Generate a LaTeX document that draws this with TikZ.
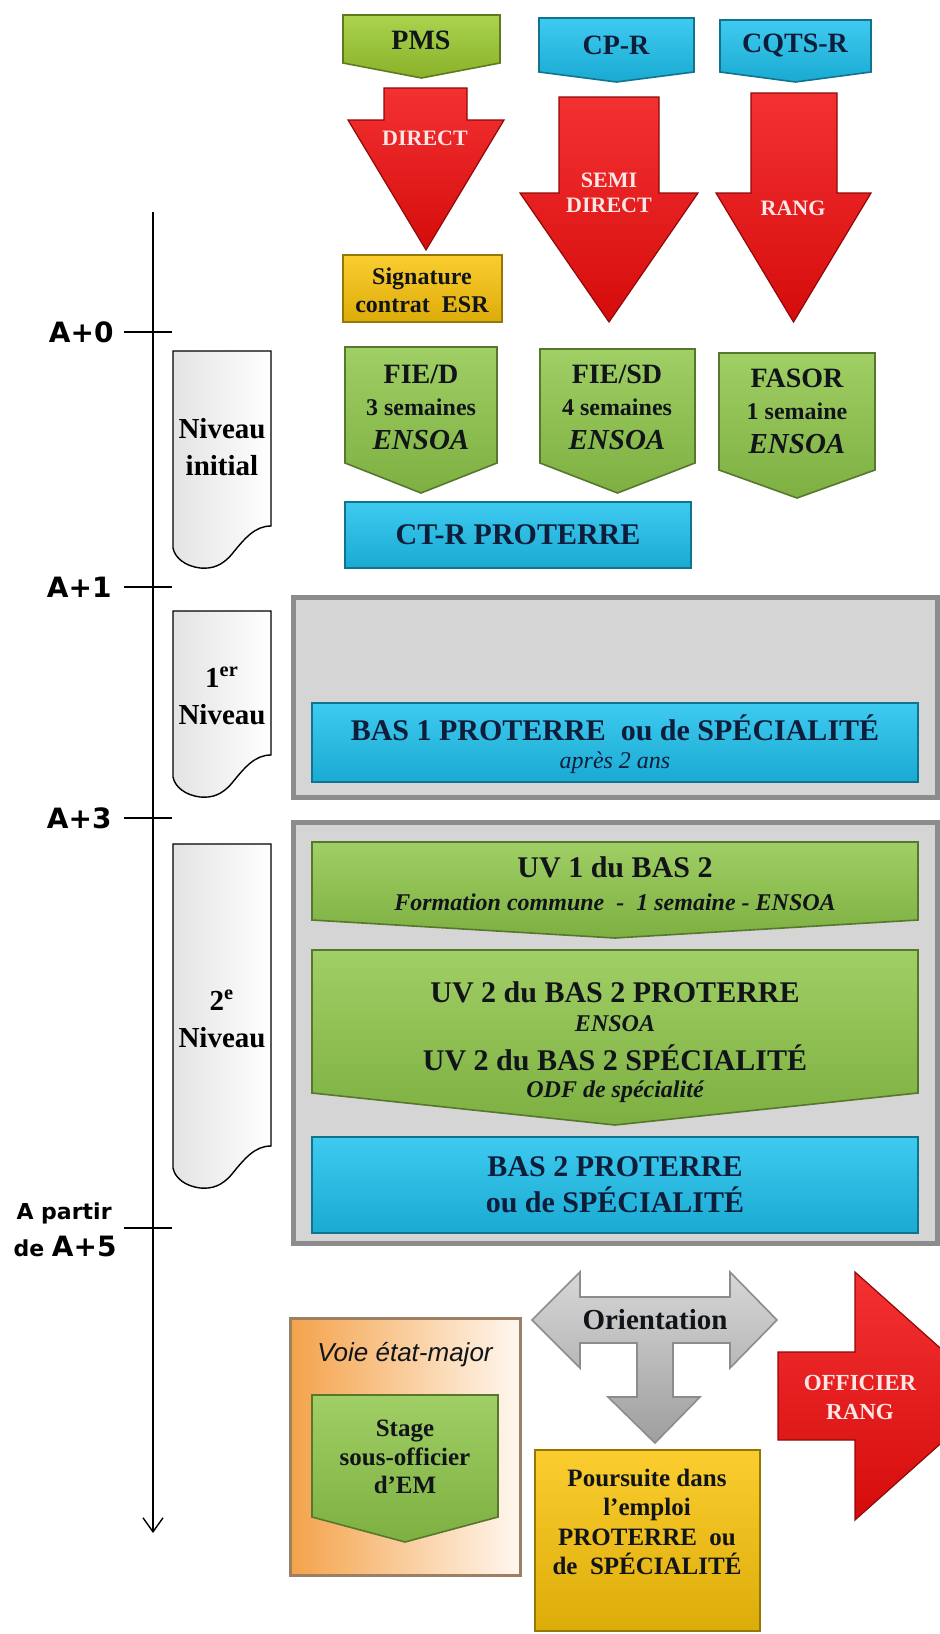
\documentclass[tikz,border=0pt]{standalone}
\usepackage{fontspec}
\setmainfont{Liberation Serif}
\newfontfamily\yearfont{DejaVu Sans}
\newfontfamily\voiefont{Liberation Sans}
\usepackage{xcolor}
\definecolor{pmsgreen}{HTML}{9CCB2F}
\definecolor{leafgreen}{HTML}{8FC74A}
\definecolor{skyblue}{HTML}{1DC1EE}
\definecolor{arrowred}{HTML}{F20D0D}
\definecolor{gold}{HTML}{FAC40A}
\definecolor{panelgray}{HTML}{D5D5D5}
\definecolor{paneledge}{HTML}{8C8C8C}
\definecolor{silver}{HTML}{C6C6C6}
\definecolor{voieorange}{HTML}{F4A24A}
\definecolor{ink}{HTML}{111418}
\definecolor{navy}{HTML}{0E1D3A}
\usepackage{tikz}
\usetikzlibrary{arrows.meta}

% box with a pointed bottom: style, x left, x right, y top, y sides, y tip
\newcommand{\chevron}[6]{%
  \path[#1] (#2,#4) -- (#3,#4) -- (#3,#5) -- ({(#2+#3)/2},#6) -- (#2,#5) -- cycle;}
% block arrow pointing down: style, shaft x1, shaft x2, y top, y head, head x1, head x2, y tip
\newcommand{\downblock}[8]{%
  \path[#1] (#2,#4) -- (#3,#4) -- (#3,#5) -- (#7,#5) -- ({(#6+#7)/2},#8) -- (#6,#5) -- (#2,#5) -- cycle;}
% level tab with a wavy bottom: y top, y lowest point
\newcommand{\leveltab}[2]{%
  \path[tab] (173,#1) -- (271,#1) -- (271,#2-42) .. controls (255,#2-42) and (245,#2-30) .. (232,#2-14)
    .. controls (222,#2-2) and (212,#2+1) .. (200,#2) .. controls (185,#2-2) and (175,#2-10) .. (173,#2-20) -- cycle;}

\begin{document}
\begin{tikzpicture}[x=0.5pt, y=-0.5pt,
    txt/.style={inner sep=0pt, align=center, text=ink},
    titletxt/.style={txt, font=\fontsize{14}{16}\selectfont\bfseries},
    bigtxt/.style={txt, font=\fontsize{15}{18}\selectfont\bfseries},
    subtxt/.style={txt, font=\fontsize{12}{14}\selectfont\bfseries},
    ensoatxt/.style={txt, font=\fontsize{14.5}{16}\selectfont\bfseries\itshape},
    smallit/.style={txt, font=\fontsize{12}{14}\selectfont\bfseries\itshape},
    redtxt/.style={txt, text=red!10!white, font=\fontsize{11}{12.5}\selectfont\bfseries},
    tabtxt/.style={txt, text=black, font=\fontsize{14.5}{18.5}\selectfont\bfseries},
    year/.style={inner sep=0pt, anchor=east, font=\yearfont\bfseries\fontsize{14}{16}\selectfont},
    bevel/.style={top color=#1!85!white, middle color=#1, bottom color=#1!88!black,
                  draw=#1!60!black, line width=0.8pt},
    lime/.style={bevel=pmsgreen},
    leaf/.style={bevel=leafgreen},
    sky/.style={bevel=skyblue},
    golden/.style={bevel=gold},
    redblock/.style={bevel=arrowred, line width=0.6pt},
    greyblock/.style={top color=silver!70!white, middle color=silver, bottom color=silver!80!black,
                      draw=paneledge, line width=0.8pt},
    panel/.style={fill=panelgray, draw=paneledge, line width=2.5pt},
    voie/.style={left color=voieorange, right color=orange!6!white, draw=brown!45!gray, line width=1.5pt},
    tab/.style={left color=gray!22, right color=white, draw=black, line width=0.7pt},
  ]
  \useasboundingbox (0,0) rectangle (940,1634);
  \clip (0,0) rectangle (940,1634);

  % time line
  \coordinate (tltop) at (153,212);
  \coordinate (tlend) at (153,1533);
  \draw[line width=0.7pt, -{Straight Barb[length=7pt, width=10pt]}] (tltop) -- (tlend);
  \foreach \ty in {332,587,818,1228}
    \draw[line width=0.7pt] (124,\ty) -- (172,\ty);
  \node[year] (a0) at (114,332) {A+0};
  \node[year] (a1) at (112,587) {A+1};
  \node[year] (a3) at (112,818) {A+3};
  \node[year, font=\yearfont\bfseries\fontsize{11}{13}\selectfont] (a5top) at (112,1213) {A partir};
  \node[year] (a5) at (117,1246) {{\fontsize{11}{13}\selectfont de }A+5};

  % level tabs
  \leveltab{351}{568}
  \node[tabtxt] (lvl0) at (222,447) {Niveau\\initial};
  \leveltab{611}{797}
  \node[tabtxt] (lvl1) at (222,696) {1\textsuperscript{er}\\Niveau};
  \leveltab{844}{1188}
  \node[tabtxt] (lvl2) at (222,1019) {2\textsuperscript{e}\\Niveau};

  % recruitment
  \chevron{lime}{343}{500}{15}{63}{78}
  \node[titletxt] (pms) at (421,40) {PMS};
  \chevron{sky}{539}{694}{18}{72}{82}
  \node[titletxt, text=navy] (cpr) at (616,45) {CP-R};
  \chevron{sky}{720}{871}{20}{72}{82}
  \node[titletxt, text=navy] (cqts) at (795,45) {CQTS-R};

  \downblock{redblock}{384}{467}{88}{120}{348}{504}{250}
  \node[redtxt] (direct) at (425,138) {DIRECT};
  \downblock{redblock}{559}{659}{97}{193}{520}{698}{322}
  \node[redtxt] (semi) at (609,193) {SEMI\\DIRECT};
  \downblock{redblock}{751}{837}{93}{193}{716}{871}{322}
  \node[redtxt] (rang) at (793,208) {RANG};

  \path[golden] (343,255) rectangle (502,322);
  \node[txt, font=\fontsize{12}{14}\selectfont\bfseries] (sign) at (422,290) {Signature\\contrat\ \ ESR};

  % initial level
  \chevron{leaf}{345}{497}{347}{463}{493}
  \node[titletxt] (fied) at (421,374) {FIE/D};
  \node[subtxt] (fiedw) at (421,407) {3 semaines};
  \node[ensoatxt] (fiede) at (421,440) {ENSOA};
  \chevron{leaf}{540}{695}{349}{463}{493}
  \node[titletxt] (fisd) at (617,374) {FIE/SD};
  \node[subtxt] (fisdw) at (617,407) {4 semaines};
  \node[ensoatxt] (fisde) at (617,440) {ENSOA};
  \chevron{leaf}{719}{875}{353}{470}{498}
  \node[titletxt] (fasor) at (797,378) {FASOR};
  \node[subtxt] (fasorw) at (797,411) {1 semaine};
  \node[ensoatxt] (fasore) at (797,444) {ENSOA};

  \path[sky] (345,502) rectangle (691,568);
  \node[bigtxt, text=navy] (ctr) at (518,535) {CT-R PROTERRE};

  % first level
  \path[panel] (293,597) rectangle (937,797);
  \path[sky] (312,703) rectangle (918,782);
  \node[bigtxt, text=navy] (bas1) at (615,728) {BAS 1 PROTERRE\ \ ou de SPÉCIALITÉ};
  \node[txt, text=navy, font=\fontsize{12}{14}\selectfont\itshape] (bas1w) at (615,763) {après 2 ans};

  % second level
  \path[panel] (293,822) rectangle (937,1243);
  \chevron{leaf}{312}{918}{842}{920}{938}
  \node[bigtxt] (uv1) at (615,867) {UV 1 du BAS 2};
  \node[smallit] (uv1w) at (615,902) {Formation commune\ \ -\ \ 1 semaine - ENSOA};
  \chevron{leaf}{312}{918}{950}{1093}{1125}
  \node[bigtxt] (uv2p) at (615,992) {UV 2 du BAS 2 PROTERRE};
  \node[smallit] (uv2pw) at (615,1024) {ENSOA};
  \node[bigtxt] (uv2s) at (615,1058) {UV 2 du BAS 2 SPÉCIALITÉ};
  \node[smallit] (uv2sw) at (615,1092) {ODF de spécialité};
  \path[sky] (312,1137) rectangle (918,1233);
  \node[bigtxt, text=navy] (bas2) at (615,1185) {BAS 2 PROTERRE\\ou de SPÉCIALITÉ};

  % after the second level
  \path[voie] (290,1318) rectangle (520,1575);
  \node[txt, font=\voiefont\itshape\fontsize{13}{15}\selectfont] (voie) at (405,1355) {Voie état-major};
  \chevron{leaf}{312}{498}{1395}{1517}{1542}
  \node[txt, font=\fontsize{12.5}{14.3}\selectfont\bfseries] (stage) at (405,1457) {Stage\\sous-officier\\d’EM};

  \path[greyblock] (532,1320) -- (580,1272) -- (580,1297) -- (730,1297) -- (730,1272) -- (777,1320)
    -- (730,1368) -- (730,1343) -- (673,1343) -- (673,1397) -- (700,1397) -- (655,1443)
    -- (608,1397) -- (637,1397) -- (637,1343) -- (580,1343) -- (580,1368) -- cycle;
  \node[titletxt, font=\fontsize{14.5}{16}\selectfont\bfseries] (orient) at (655,1320) {Orientation};

  \path[golden] (535,1450) rectangle (760,1631);
  \node[txt, font=\fontsize{12.5}{14.8}\selectfont\bfseries] (suite) at (647,1522)
    {Poursuite dans\\l’emploi\\PROTERRE\ \ ou\\de\ \ SPÉCIALITÉ};

  \path[redblock] (778,1352) -- (855,1352) -- (855,1272) -- (994,1396) -- (855,1520) -- (855,1440) -- (778,1440) -- cycle;
  \node[redtxt, font=\fontsize{11.5}{14.5}\selectfont\bfseries] (officier) at (860,1397) {OFFICIER\\RANG};
\end{tikzpicture}
\end{document}
